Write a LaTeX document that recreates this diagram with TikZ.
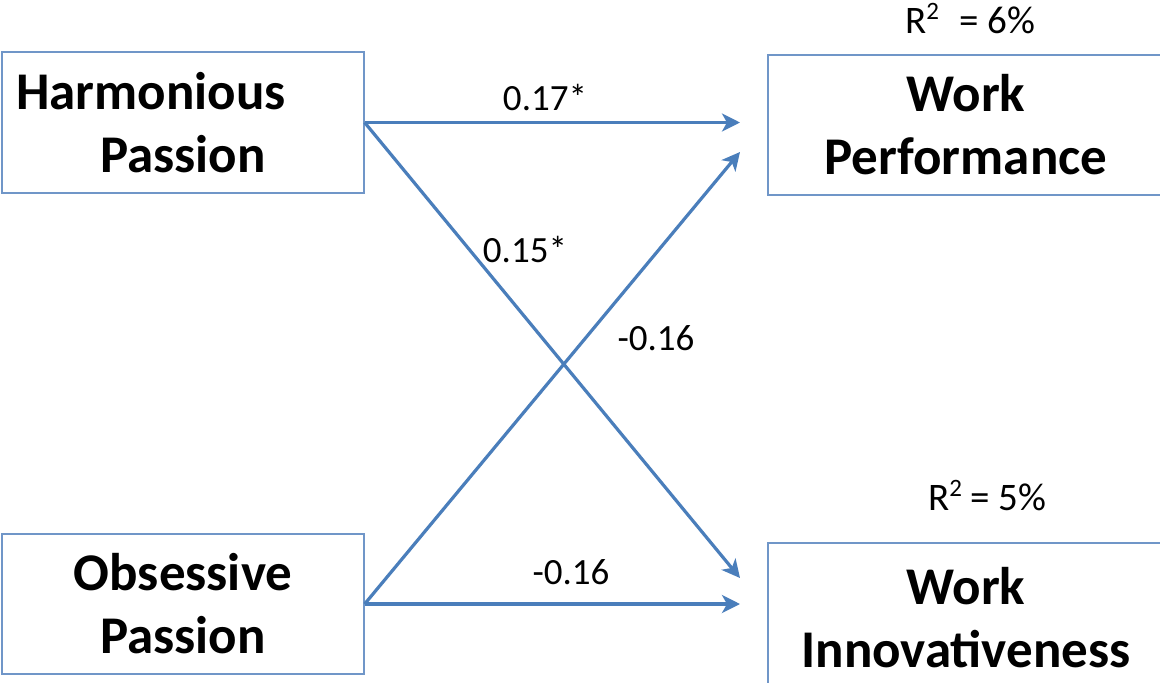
\documentclass[tikz,border=0pt]{standalone}
\usepackage{fontspec}
\setmainfont{Carlito}
\usetikzlibrary{arrows.meta}
\definecolor{boxblue}{HTML}{7096C8}
\definecolor{arrblue}{HTML}{4A7EBB}
\newcommand{\sqtwo}{\raisebox{0.34em}{\fontsize{25}{25}\selectfont 2}}
\begin{document}
\begin{tikzpicture}[x=1pt,y=-1pt,
  varbox/.style={draw=boxblue, line width=1.3pt, inner sep=0pt, align=center,
    font=\fontsize{53}{63}\selectfont\bfseries},
  arr/.style={draw=arrblue, line width=3.2pt,
    -{Stealth[length=18pt,width=18pt,inset=5pt]}},
  lbl/.style={font=\fontsize{37}{40}\selectfont, inner sep=0pt},
  rsq/.style={font=\fontsize{39}{42}\selectfont, inner sep=0pt, anchor=base west}]
\useasboundingbox (0,0) rectangle (1160,683);
\node[varbox, minimum width=362pt, minimum height=141pt] (hp) at (183,122.5) {Harmonious\hspace*{64pt}\\Passion};
\node[varbox, minimum width=362pt, minimum height=140pt] (op) at (183,604) {Obsessive\\Passion};
\node[varbox, minimum width=396pt, minimum height=140pt] (wp) at (966,125) {Work\\Performance};
\node[varbox, minimum width=396pt, minimum height=150pt] (wi) at (966,618) {Work\\Innovativeness};
\coordinate (wpa) at (740,122.5);
\coordinate (wpb) at (740,152);
\coordinate (wia) at (740,578);
\coordinate (wib) at (740,604);
\draw[arr] (hp.east) -- (wpa);
\draw[arr] (hp.east) -- (wia);
\draw[arr] (op.east) -- (wpb);
\draw[arr] (op.east) -- (wib);
\node[lbl] (l1) at (545,98) {0.17*};
\node[lbl] (l2) at (525,250) {0.15*};
\node[lbl] (l3) at (656,338) {-0.16};
\node[lbl] (l4) at (571,572) {-0.16};
\node[rsq] (r1) at (905,33) {R\sqtwo\hspace{20pt}= 6\%};
\node[rsq] (r2) at (928,510) {R\sqtwo\hspace{8pt}= 5\%};
\end{tikzpicture}
\end{document}
